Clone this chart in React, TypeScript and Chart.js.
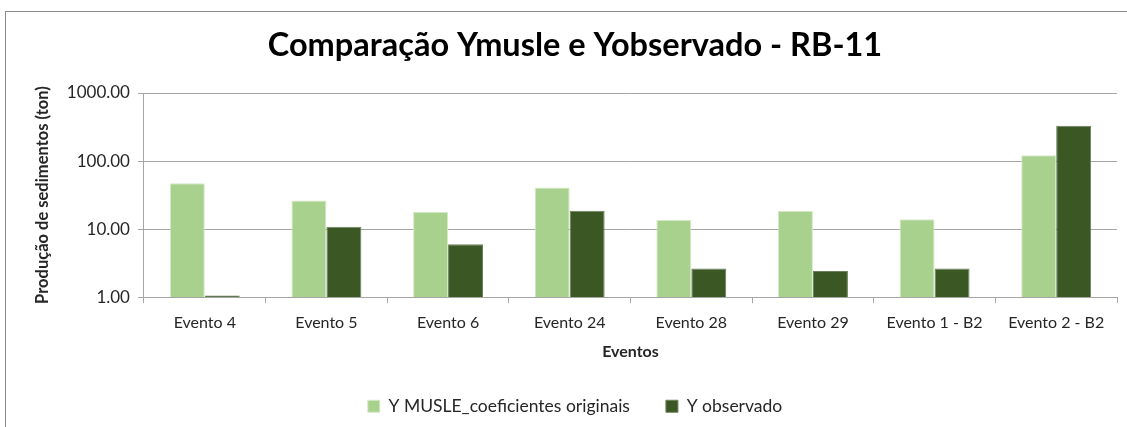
import React, { useEffect, useRef } from "react";
import { Chart, registerables } from "chart.js";
Chart.register(...registerables);

const categories = ["Evento 4", "Evento 5", "Evento 6", "Evento 24", "Evento 28", "Evento 29", "Evento 1 - B2", "Evento 2 - B2"];
const yMusle = [47, 26.4, 18, 41, 13.6, 18.6, 14, 122];
const yObservado = [1.06, 10.8, 6.0, 18.6, 2.64, 2.41, 2.64, 330];
const yTicks = [1, 10, 100, 1000];
const seriesNames = ["Y MUSLE_coeficientes originais", "Y observado"];
const titleText = "Comparação Ymusle e Yobservado - RB-11";
const xTitle = "Eventos";
const yTitle = "Produção de sedimentos (ton)";

const FONT = "Lato, 'Open Sans', sans-serif";
const W = 1127;
const H = 427;

const framePlugin = {
  id: "frame",
  beforeDraw(chart: any) {
    const ctx = chart.ctx;
    ctx.save();
    ctx.fillStyle = "#ffffff";
    ctx.fillRect(0, 0, W, H);
    ctx.strokeStyle = "#8c8c8c";
    ctx.lineWidth = 1;
    ctx.strokeRect(5.5, 11.5, W + 20, H + 20);
    ctx.restore();
  },
};

export default function App() {
  const ref = useRef<HTMLCanvasElement | null>(null);
  useEffect(() => {
    if (!ref.current) return;
    const chart = new Chart(ref.current, {
      type: "bar",
      data: {
        labels: categories,
        datasets: [
          {
            label: seriesNames[0],
            data: yMusle,
            backgroundColor: "#A9D18E",
            borderColor: "#D6E9C8",
            borderWidth: 1,
            categoryPercentage: 0.575,
            barPercentage: 1,
          },
          {
            label: seriesNames[1],
            data: yObservado,
            backgroundColor: "#3B5724",
            borderColor: "#6B7F5C",
            borderWidth: 1,
            categoryPercentage: 0.575,
            barPercentage: 1,
          },
        ],
      },
      options: {
        responsive: false,
        animation: false,
        layout: { padding: { left: 33, right: 10, top: 0, bottom: 2 } },
        plugins: {
          title: {
            display: true,
            text: titleText,
            color: "#000000",
            font: { family: FONT, size: 32.5, weight: "bold" },
            padding: { top: 26, bottom: 28 },
          },
          legend: {
            position: "bottom",
            labels: {
              color: "#262626",
              font: { family: FONT, size: 17.5 },
              boxWidth: 12,
              boxHeight: 12,
              padding: 36,
            },
          },
          tooltip: { enabled: false },
        },
        scales: {
          x: {
            grid: {
              display: true,
              offset: true,
              drawOnChartArea: false,
              drawTicks: true,
              tickLength: 6,
              color: "#a6a6a6",
            },
            border: { color: "#a6a6a6" },
            ticks: { color: "#262626", font: { family: FONT, size: 16 }, maxRotation: 0, padding: 10 },
            title: {
              display: true,
              text: xTitle,
              color: "#262626",
              font: { family: FONT, size: 16, weight: "bold" },
              padding: { top: 0, bottom: 0 },
            },
          },
          y: {
            type: "logarithmic",
            min: 1,
            max: 1000,
            afterBuildTicks: (s: any) => {
              s.ticks = yTicks.map((v) => ({ value: v }));
            },
            grid: { color: "#a6a6a6", tickLength: 6 },
            border: { color: "#a6a6a6" },
            ticks: {
              color: "#262626",
              font: { family: FONT, size: 17 },
              padding: 8,
              callback: (v: any) => Number(v).toFixed(2),
            },
            title: {
              display: true,
              text: yTitle,
              color: "#262626",
              font: { family: FONT, size: 16.5, weight: "bold" },
              padding: { top: 0, bottom: 6 },
            },
          },
        },
      },
      plugins: [framePlugin],
    });
    return () => chart.destroy();
  }, []);
  return (
    <div style={{ position: "fixed", left: 0, top: 0, width: W, height: H, background: "#fff" }}>
      <canvas ref={ref} width={W} height={H} style={{ width: W, height: H, display: "block" }} />
    </div>
  );
}
